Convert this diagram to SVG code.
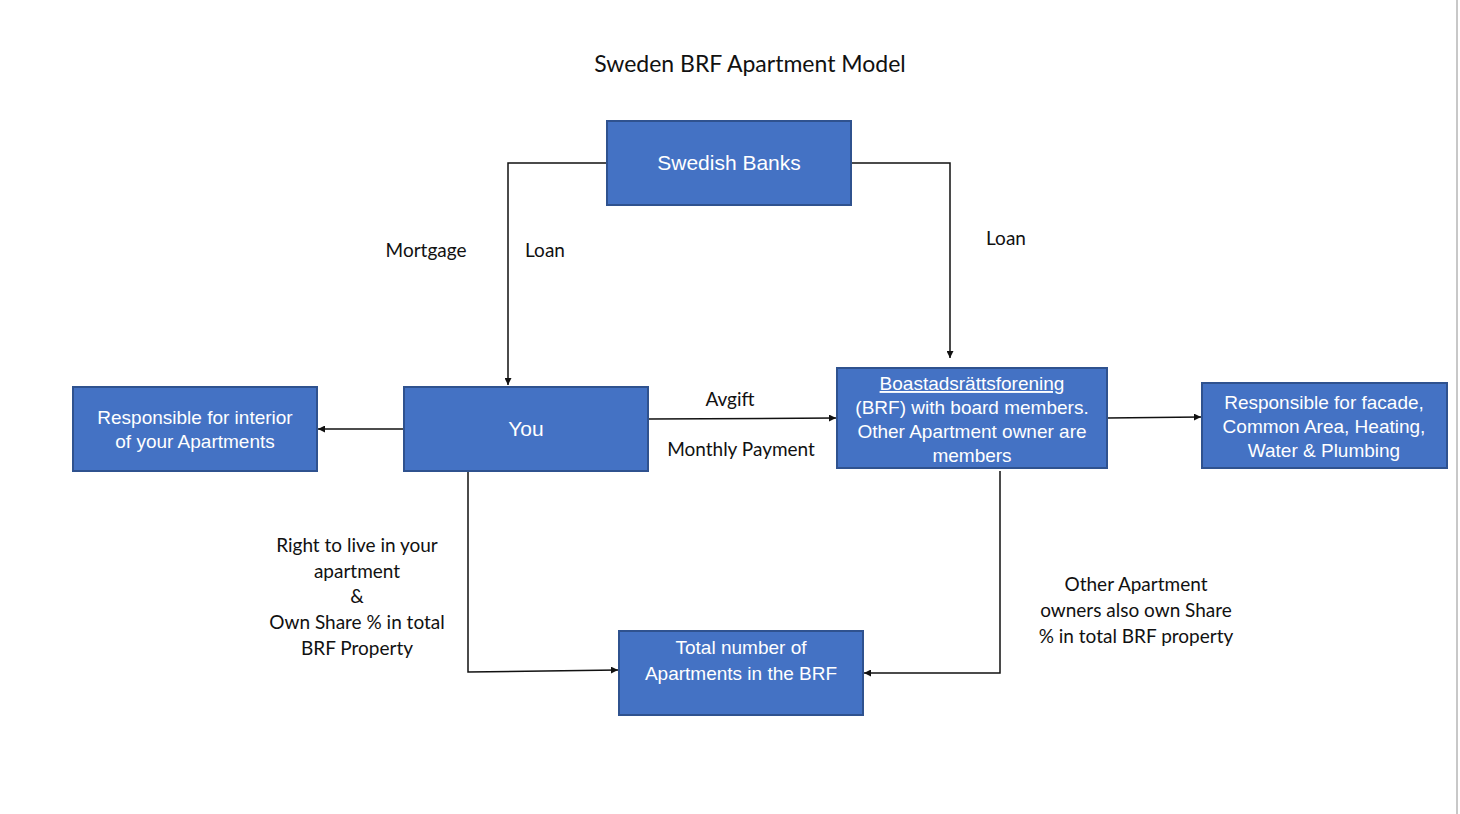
<svg xmlns="http://www.w3.org/2000/svg" width="1460" height="814" viewBox="0 0 1460 814">
<style>
.box{fill:#4472C4;stroke:#2F528F;stroke-width:2}
.bt{font-family:"Liberation Sans",Arial,sans-serif;font-size:19px;fill:#fff;text-anchor:middle}
.lb{font-family:Lato,"Open Sans",sans-serif;font-size:19px;fill:#111;text-anchor:middle}
.c{fill:none;stroke:#111;stroke-width:1.5;marker-end:url(#a)}
</style>
<defs><marker id="a" viewBox="0 0 10 10" refX="10" refY="5" markerWidth="7" markerHeight="7" orient="auto" markerUnits="userSpaceOnUse"><path d="M0,0L10,5L0,10z" fill="#111"/></marker></defs>
<rect width="1460" height="814" fill="#fff"/>
<line x1="1457" y1="0" x2="1457" y2="814" stroke="#c8c8c8" stroke-width="2"/>
<text x="750" y="72" class="lb" style="font-size:23px">Sweden BRF Apartment Model</text>
<g id="connectors">
<path class="c" d="M607,163H508V385"/>
<path class="c" d="M851,163H950V358"/>
<path class="c" d="M404,429H318"/>
<path class="c" d="M648,419L836,418"/>
<path class="c" d="M1107,418L1201,417"/>
<path class="c" d="M468,471V672L618,670"/>
<path class="c" d="M1000,471V673H864"/>
</g>
<g id="labels">
<text x="426" y="257" class="lb">Mortgage</text>
<text x="545" y="257" class="lb">Loan</text>
<text x="1006" y="245" class="lb">Loan</text>
<text x="730" y="406" class="lb">Avgift</text>
<text x="741" y="456" class="lb">Monthly Payment</text>
<text class="lb"><tspan x="357" y="552">Right to live in your</tspan><tspan x="357" y="578">apartment</tspan><tspan x="357" y="603">&amp;</tspan><tspan x="357" y="629">Own Share % in total</tspan><tspan x="357" y="655">BRF Property</tspan></text>
<text class="lb"><tspan x="1136" y="591">Other Apartment</tspan><tspan x="1136" y="617">owners also own Share</tspan><tspan x="1136" y="643">% in total BRF property</tspan></text>
</g>
<g id="banks"><rect class="box" x="607" y="121" width="244" height="84"/><text x="729" y="170" class="bt" style="font-size:21px">Swedish Banks</text></g>
<g id="interior"><rect class="box" x="73" y="387" width="244" height="84"/><text class="bt"><tspan x="195" y="424">Responsible for interior</tspan><tspan x="195" y="448">of your Apartments</tspan></text></g>
<g id="you"><rect class="box" x="404" y="387" width="244" height="84"/><text x="526" y="436" class="bt" style="font-size:21px">You</text></g>
<g id="brf"><rect class="box" x="837" y="368" width="270" height="100"/><text class="bt"><tspan x="972" y="390" text-decoration="underline">Boastadsrättsforening</tspan><tspan x="972" y="414">(BRF) with board members.</tspan><tspan x="972" y="438">Other Apartment owner are</tspan><tspan x="972" y="462">members</tspan></text></g>
<g id="facade"><rect class="box" x="1202" y="383" width="245" height="85"/><text class="bt"><tspan x="1324" y="409">Responsible for facade,</tspan><tspan x="1324" y="433">Common Area, Heating,</tspan><tspan x="1324" y="457">Water &amp; Plumbing</tspan></text></g>
<g id="total"><rect class="box" x="619" y="631" width="244" height="84"/><text class="bt"><tspan x="741" y="654">Total number of</tspan><tspan x="741" y="680">Apartments in the BRF</tspan></text></g>
</svg>
